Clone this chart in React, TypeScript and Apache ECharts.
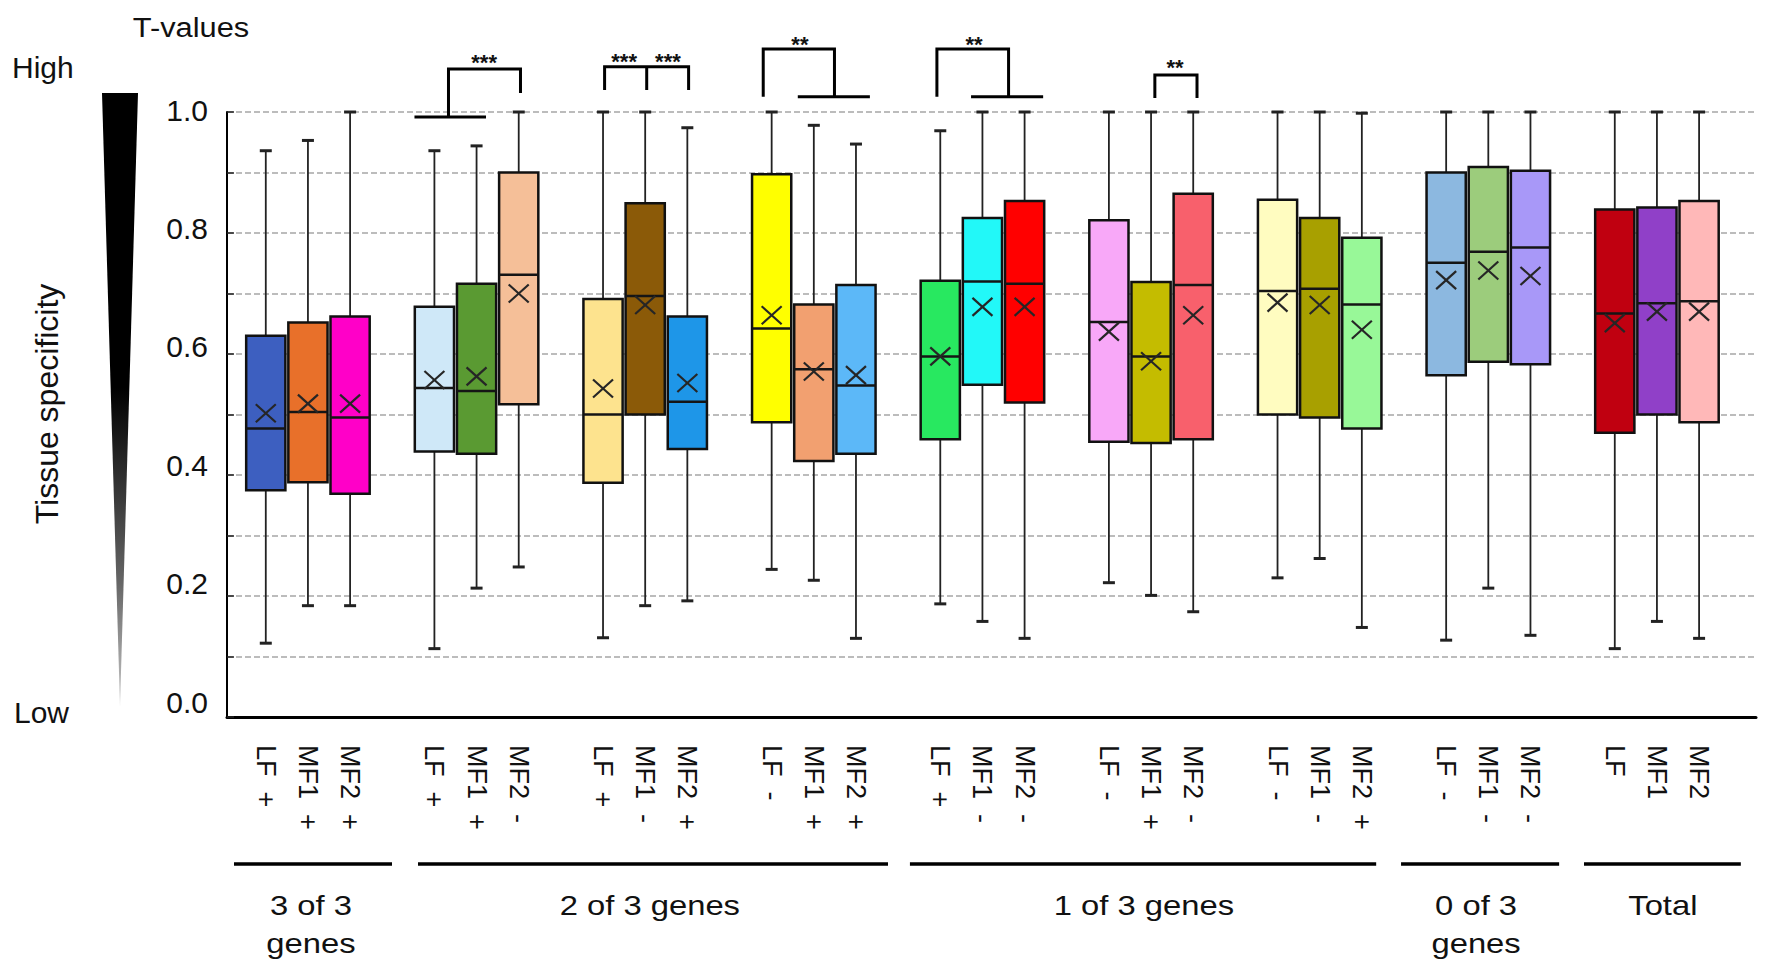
import React, { useEffect, useRef } from 'react';
import * as echarts from 'echarts';

const FONT = '"Liberation Sans", Arial, Helvetica, sans-serif';

// ---- data ----
const boxLabels = [
  'LF  +', 'MF1  +', 'MF2  +',
  'LF  +', 'MF1  +', 'MF2  -',
  'LF  +', 'MF1  -', 'MF2  +',
  'LF  -', 'MF1  +', 'MF2  +',
  'LF  +', 'MF1  -', 'MF2  -',
  'LF  -', 'MF1  +', 'MF2  -',
  'LF  -', 'MF1  -', 'MF2  +',
  'LF  -', 'MF1  -', 'MF2  -',
  'LF', 'MF1', 'MF2',
];
const whiskerLow = [0.122, 0.184, 0.184, 0.113, 0.213, 0.248, 0.131, 0.184, 0.192, 0.244, 0.226, 0.130, 0.187, 0.158, 0.130, 0.222, 0.201, 0.174, 0.230, 0.262, 0.148, 0.127, 0.213, 0.135, 0.113, 0.158, 0.130];
const quart1 = [0.375, 0.388, 0.369, 0.439, 0.435, 0.517, 0.387, 0.500, 0.443, 0.487, 0.423, 0.435, 0.459, 0.549, 0.520, 0.455, 0.453, 0.459, 0.500, 0.495, 0.477, 0.565, 0.587, 0.583, 0.470, 0.500, 0.487];
const medians = [0.477, 0.504, 0.495, 0.544, 0.539, 0.731, 0.500, 0.696, 0.521, 0.642, 0.575, 0.548, 0.596, 0.720, 0.716, 0.653, 0.596, 0.714, 0.704, 0.708, 0.682, 0.751, 0.769, 0.776, 0.667, 0.684, 0.687];
const quart3 = [0.630, 0.652, 0.662, 0.678, 0.716, 0.900, 0.691, 0.849, 0.662, 0.897, 0.682, 0.714, 0.721, 0.825, 0.853, 0.821, 0.719, 0.865, 0.855, 0.825, 0.792, 0.900, 0.909, 0.903, 0.839, 0.842, 0.853];
const whiskerHigh = [0.936, 0.953, 1.0, 0.936, 0.944, 1.0, 1.0, 1.0, 0.974, 1.0, 0.978, 0.947, 0.969, 1.0, 1.0, 1.0, 1.0, 1.0, 1.0, 1.0, 0.998, 1.0, 1.0, 1.0, 1.0, 1.0, 1.0];
const means = [0.502, 0.518, 0.518, 0.557, 0.563, 0.700, 0.543, 0.681, 0.552, 0.664, 0.571, 0.565, 0.596, 0.678, 0.678, 0.637, 0.588, 0.664, 0.685, 0.681, 0.640, 0.722, 0.738, 0.729, 0.651, 0.670, 0.670];
const boxColors = [
  '#3d5fc0', '#e8702a', '#ff00c8',
  '#cfe8f8', '#5a9a32', '#f5bf98',
  '#fde38e', '#8b5a08', '#1e96e8',
  '#ffff00', '#f2a070', '#5cb8f8',
  '#28e860', '#22f8f8', '#ff0000',
  '#f8a8f8', '#c4bc00', '#f8606c',
  '#fffcc0', '#a8a000', '#98f898',
  '#8cb8e0', '#9ccc7c', '#a898f8',
  '#c00010', '#9040c8', '#ffb8b8',
];
const yTickLabels = ['0.0', '0.2', '0.4', '0.6', '0.8', '1.0'];
const groupNames = ['3 of 3\ngenes', '2 of 3 genes', '1 of 3 genes', '0 of 3\ngenes', 'Total'];

// slot positions (one blank slot between each triplet)
const slots = boxLabels.map((_, i) => Math.floor(i / 3) * 4 + (i % 3));
const catLabels: string[] = [];
boxLabels.forEach((l, i) => {
  if (i > 0 && i % 3 === 0) catLabels.push('');
  catLabels.push(l);
});
const seriesData = boxLabels.map((_, i) => [slots[i], whiskerLow[i], quart1[i], medians[i], quart3[i], whiskerHigh[i], means[i]]);

const option: any = {
  animation: false,
  backgroundColor: '#ffffff',
  grid: [
    { left: 227, right: 16, top: 112, bottom: 256 },
    { left: 244.7, right: 51.8, top: 112, bottom: 256 },
    { left: 227, width: 10, top: 110, bottom: 271 },
  ],
  xAxis: [
    {
      type: 'value', gridIndex: 0, min: -0.92, max: 35.35,
      axisLine: { show: true, onZero: false, lineStyle: { color: '#000', width: 3 } },
      axisTick: { show: false }, axisLabel: { show: false }, splitLine: { show: false },
    },
    {
      type: 'category', gridIndex: 1, data: catLabels, boundaryGap: true,
      axisLine: { show: false }, axisTick: { show: false },
      axisLabel: { rotate: -90, margin: 28, interval: 0, fontSize: 27, color: '#111', fontFamily: FONT },
    },
    { type: 'value', gridIndex: 2, show: false },
  ],
  yAxis: [
    {
      type: 'value', gridIndex: 0, min: 0, max: 1, interval: 0.1,
      axisLine: { show: true, onZero: false, lineStyle: { color: '#000', width: 2 } },
      axisTick: { show: true, inside: true, length: 7, lineStyle: { color: '#222', width: 1.5 } },
      axisLabel: { show: false },
      splitLine: { show: true, lineStyle: { color: '#a6a6a6', width: 1.5, type: [6, 3] } },
    },
    { type: 'value', gridIndex: 1, show: false, min: 0, max: 1 },
    {
      type: 'value', gridIndex: 2, min: 0, max: 1, interval: 0.2,
      axisLine: { show: false, onZero: false }, axisTick: { show: false }, splitLine: { show: false },
      axisLabel: {
        margin: 19, fontSize: 30, color: '#111', fontFamily: FONT,
        formatter: (v: number) => yTickLabels[Math.round(v * 5)] ?? '',
      },
    },
  ],
  series: [
    {
      type: 'custom',
      xAxisIndex: 0,
      yAxisIndex: 0,
      data: seriesData,
      renderItem: (params: any, api: any) => {
        const pos = api.value(0);
        const c = (v: number) => api.coord([pos, v]);
        const [x, yLo] = c(api.value(1));
        const yQ1 = c(api.value(2))[1];
        const yMed = c(api.value(3))[1];
        const yQ3 = c(api.value(4))[1];
        const yHi = c(api.value(5))[1];
        const yMean = c(api.value(6))[1];
        const bw = api.size([1, 0])[0] * 0.93;
        const cap = 6;
        const wStyle = { stroke: '#222', lineWidth: 1.8 };
        const capStyle = { stroke: '#222', lineWidth: 3 };
        const xStyle = { stroke: '#262626', lineWidth: 2.2 };
        return {
          type: 'group',
          children: [
            { type: 'line', shape: { x1: x, y1: yHi, x2: x, y2: yQ3 }, style: wStyle },
            { type: 'line', shape: { x1: x, y1: yQ1, x2: x, y2: yLo }, style: wStyle },
            { type: 'line', shape: { x1: x - cap, y1: yHi, x2: x + cap, y2: yHi }, style: capStyle },
            { type: 'line', shape: { x1: x - cap, y1: yLo, x2: x + cap, y2: yLo }, style: capStyle },
            {
              type: 'rect',
              shape: { x: x - bw / 2, y: yQ3, width: bw, height: yQ1 - yQ3 },
              style: { fill: boxColors[params.dataIndex], stroke: '#111', lineWidth: 2.5 },
            },
            { type: 'line', shape: { x1: x - bw / 2, y1: yMed, x2: x + bw / 2, y2: yMed }, style: { stroke: '#151515', lineWidth: 2.5 } },
            { type: 'line', shape: { x1: x - 10, y1: yMean - 9, x2: x + 10, y2: yMean + 9 }, style: xStyle },
            { type: 'line', shape: { x1: x - 10, y1: yMean + 9, x2: x + 10, y2: yMean - 9 }, style: xStyle },
          ],
        };
      },
    },
  ],
};

// annotation layout (in slot units for x, pixels for y)
const groupLineSpans = [[-0.754, 2.994], [3.611, 14.76], [15.28, 26.34], [26.93, 30.68], [31.27, 34.99]];
const groupLabelPos = [1.07, 9.11, 20.83, 28.71, 33.14];

function buildGraphic(px: (p: number) => number) {
  const textStyle = (text: string, size: number, align = 'center') => ({
    text, fill: '#111', fontSize: size, fontFamily: FONT, textAlign: align, textVerticalAlign: 'middle',
  });
  const bl = { stroke: '#000', lineWidth: 3, fill: 'none' };
  const stars = (text: string, p: number, y: number) => ({
    type: 'text', x: px(p), y: y + 5,
    style: { text, fill: '#111', fontSize: 22, fontWeight: 'bold', fontFamily: FONT, textAlign: 'center', textVerticalAlign: 'middle' },
  });
  const els: any[] = [
    { type: 'text', x: 191, y: 27, scaleX: 1.1, style: textStyle('T-values', 28) },
    { type: 'text', x: 12, y: 67, style: textStyle('High', 30, 'left') },
    { type: 'text', x: 14, y: 712, style: textStyle('Low', 30, 'left') },
    { type: 'text', x: 47, y: 404, rotation: Math.PI / 2, style: textStyle('Tissue specificity', 32) },
    {
      type: 'polygon',
      shape: { points: [[102, 93], [138, 93], [120, 706]] },
      style: {
        fill: new echarts.graphic.LinearGradient(0, 0, 0, 1, [
          { offset: 0, color: '#000' },
          { offset: 0.48, color: '#000' },
          { offset: 0.8, color: '#666' },
          { offset: 1, color: '#c8c8c8' },
        ]),
      },
    },
  ];
  groupLineSpans.forEach(([a, b]) => {
    els.push({ type: 'line', shape: { x1: px(a), y1: 864, x2: px(b), y2: 864 }, style: { stroke: '#000', lineWidth: 3.5 } });
  });
  groupNames.forEach((g, i) => {
    els.push({
      type: 'text', x: px(groupLabelPos[i]), y: 905, scaleX: 1.17,
      style: { text: g, fill: '#111', fontSize: 28, fontFamily: FONT, textAlign: 'center', textVerticalAlign: 'top', lineHeight: 38, y: -19 },
    });
  });
  // bracket 1 (2 of 3 genes: LF+/MF1+ vs MF2-)
  els.push({ type: 'polyline', shape: { points: [[px(3.527), 117], [px(5.224), 117]] }, style: bl });
  els.push({ type: 'polyline', shape: { points: [[px(4.334), 117], [px(4.334), 69], [px(6.042), 69], [px(6.042), 93]] }, style: bl });
  els.push(stars('***', 5.18, 57));
  // bracket 2 (LF+ - MF1- - MF2+)
  els.push({ type: 'polyline', shape: { points: [[px(8.037), 90], [px(8.037), 66.7], [px(10.03), 66.7], [px(10.03), 90]] }, style: bl });
  els.push({ type: 'polyline', shape: { points: [[px(9.036), 66.7], [px(9.036), 90]] }, style: bl });
  els.push(stars('***', 8.5, 56.7));
  els.push(stars('***', 9.54, 56.7));
  // bracket 3
  els.push({ type: 'polyline', shape: { points: [[px(11.8), 96.7], [px(11.8), 49], [px(13.49), 49], [px(13.49), 96.7]] }, style: bl });
  els.push({ type: 'polyline', shape: { points: [[px(12.62), 96.7], [px(14.33), 96.7]] }, style: bl });
  els.push(stars('**', 12.67, 39));
  // bracket 4
  els.push({ type: 'polyline', shape: { points: [[px(15.92), 96.7], [px(15.92), 49], [px(17.62), 49], [px(17.62), 96.7]] }, style: bl });
  els.push({ type: 'polyline', shape: { points: [[px(16.73), 96.7], [px(18.44), 96.7]] }, style: bl });
  els.push(stars('**', 16.8, 39));
  // bracket 5
  els.push({ type: 'polyline', shape: { points: [[px(21.09), 98], [px(21.09), 75], [px(22.09), 75], [px(22.09), 98]] }, style: bl });
  els.push(stars('**', 21.57, 62.7));
  return els;
}

export default function App() {
  const ref = useRef<HTMLDivElement>(null);
  useEffect(() => {
    const chart = echarts.init(ref.current!, null, { renderer: 'svg' });
    chart.setOption(option);
    const px = (p: number) => chart.convertToPixel({ xAxisIndex: 0 }, p) as number;
    chart.setOption({ graphic: buildGraphic(px) });
    return () => chart.dispose();
  }, []);
  return (
    <div
      ref={ref}
      style={{ position: 'fixed', left: 0, top: 0, width: 1772, height: 973, background: '#fff' }}
    />
  );
}
